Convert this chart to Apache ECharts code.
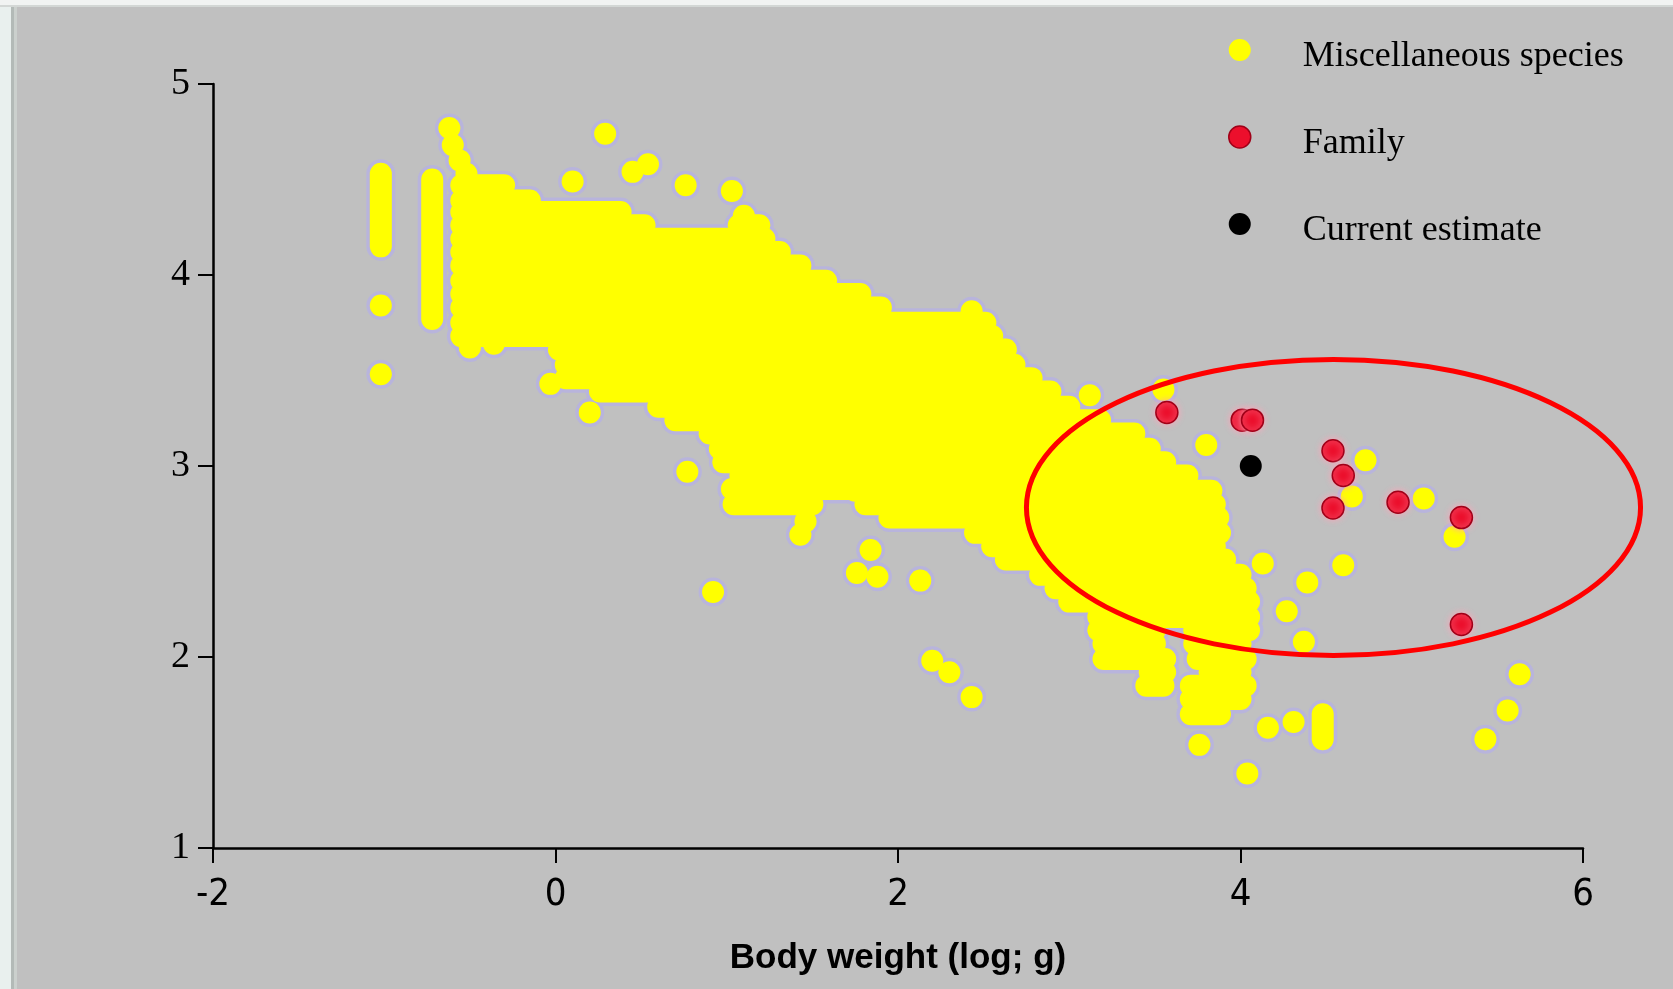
<!DOCTYPE html>
<html>
<head>
<meta charset="utf-8">
<script src="https://cdn.jsdelivr.net/npm/echarts@6/dist/echarts.min.js"></script>
<style>
html,body{margin:0;padding:0;background:#c0c0c0;}
#chart{width:1673px;height:989px;}
</style>
</head>
<body>
<div id="chart"></div>
<script>
// ---- axis ticks ----
const xTickValues = [-2, 0, 2, 4, 6];
const yTickValues = [1, 2, 3, 4, 5];

// ---- Miscellaneous species: dense cloud, read as horizontal runs of overlapping dots [y, xStart, xEnd] ----
const cloudRows = [
  [4.47, -0.55, -0.30],
  [4.39, -0.55, -0.15],
  [4.33, -0.55, 0.38],
  [4.26, -0.55, 0.52],
  [4.26, 1.07, 1.19],
  [4.19, -0.55, 1.22],
  [4.12, -0.55, 1.31],
  [4.05, -0.55, 1.43],
  [3.97, -0.55, 1.58],
  [3.90, -0.55, 1.78],
  [3.83, -0.55, 1.90],
  [3.75, -0.55, 2.51],
  [3.68, -0.55, 2.55],
  [3.61, 0.02, 2.63],
  [3.53, 0.06, 2.68],
  [3.46, 0.06, 2.78],
  [3.39, 0.26, 2.89],
  [3.31, 0.60, 3.00],
  [3.24, 0.70, 3.18],
  [3.17, 0.90, 3.38],
  [3.09, 0.96, 3.47],
  [3.02, 0.98, 3.56],
  [2.95, 1.08, 3.69],
  [2.88, 1.03, 1.75],
  [2.87, 1.75, 3.83],
  [2.80, 1.04, 1.50],
  [2.80, 1.81, 3.85],
  [2.73, 1.95, 3.87],
  [2.65, 2.45, 3.88],
  [2.58, 2.55, 3.85],
  [2.51, 2.63, 3.91],
  [2.43, 2.83, 4.00],
  [2.36, 2.92, 4.03],
  [2.29, 3.00, 4.05],
  [2.21, 3.17, 4.05],
  [2.14, 3.17, 3.50],
  [2.14, 3.73, 4.05],
  [2.07, 3.20, 3.50],
  [2.07, 3.73, 4.00],
  [1.99, 3.20, 3.56],
  [1.99, 3.75, 4.03],
  [1.92, 3.47, 3.56],
  [1.92, 3.82, 4.00],
  [1.85, 3.45, 3.55],
  [1.85, 3.71, 4.03],
  [1.78, 3.71, 4.00],
  [1.70, 3.71, 3.88]
];
// vertical runs of overlapping dots [x, yStart, yEnd]
const cloudColumns = [
  [-1.02, 4.15, 4.53],
  [-0.72, 3.77, 4.50],
  [4.48, 1.57, 1.70]
];
// isolated Miscellaneous species points [x, y]
const miscPoints = [
  [-1.02, 3.84], [-1.02, 3.48],
  [-0.62, 4.77], [-0.60, 4.68], [-0.56, 4.60], [-0.52, 4.53],
  [-0.50, 3.62], [-0.36, 3.64], [-0.03, 3.43], [0.20, 3.28],
  [0.29, 4.74], [0.45, 4.54], [0.54, 4.58], [0.10, 4.49], [0.76, 4.47], [1.03, 4.44], [1.10, 4.31],
  [2.43, 3.81],
  [0.77, 2.97], [0.92, 2.34],
  [1.43, 2.64], [1.46, 2.71], [1.76, 2.44], [1.84, 2.56], [1.88, 2.42], [2.13, 2.40],
  [2.20, 1.98], [2.30, 1.92], [2.43, 1.79],
  [3.12, 3.37], [3.55, 3.40], [3.80, 3.11],
  [4.13, 2.49], [4.39, 2.39], [4.60, 2.48], [4.27, 2.24], [4.37, 2.08],
  [4.73, 3.03], [4.65, 2.84], [5.07, 2.83], [5.25, 2.63],
  [5.63, 1.91], [5.56, 1.72], [5.43, 1.57],
  [4.31, 1.66], [4.16, 1.63], [3.76, 1.54], [4.04, 1.39]
];
// ---- Family ----
const familyPoints = [
  [3.57, 3.28], [4.01, 3.24], [4.07, 3.24], [4.54, 3.08], [4.60, 2.95],
  [4.54, 2.78], [4.92, 2.81], [5.29, 2.73], [5.29, 2.17]
];
// ---- Current estimate ----
const currentEstimate = [[4.06, 3.00]];
// ---- highlight ellipse [cx, cy, rx, ry] in data units ----
const highlightEllipse = [[4.543, 2.783, 1.793, 0.775]];

const seriesNames = ['Miscellaneous species', 'Family', 'Current estimate'];

const segments = cloudRows.map(r => [r[1], r[0], r[2], r[0]])
  .concat(cloudColumns.map(c => [c[0], c[1], c[0], c[2]]));

function segRender(width, color) {
  return function (params, api) {
    const p1 = api.coord([api.value(0), api.value(1)]);
    const p2 = api.coord([api.value(2), api.value(3)]);
    return {
      type: 'line',
      shape: { x1: p1[0], y1: p1[1], x2: p2[0], y2: p2[1] },
      style: { stroke: color, lineWidth: width, lineCap: 'round', fill: null }
    };
  };
}

const YELLOW = '#ffff00';
const HALO = '#b8b4dc';
const RED = '#ec0f2c';
const DOT = 22;

const condensed = "'DejaVu Sans Condensed', 'Liberation Sans Narrow', sans-serif";
const sans = "'Liberation Sans', Arial, sans-serif";
const serif = "'Liberation Serif', 'Times New Roman', serif";

const chart = echarts.init(document.getElementById('chart'), null, { renderer: 'canvas' });
chart.setOption({
  backgroundColor: '#c0c0c0',
  animation: false,
  grid: { left: 213, right: 90, top: 84, bottom: 141, containLabel: false },
  xAxis: {
    type: 'value', min: xTickValues[0], max: xTickValues[xTickValues.length - 1], interval: 2,
    axisLine: { show: true, onZero: false, lineStyle: { color: '#000', width: 2.5 } },
    axisTick: { show: true, length: 15, lineStyle: { color: '#000', width: 2 } },
    splitLine: { show: false },
    axisLabel: { color: '#000', fontFamily: condensed, fontSize: 38, margin: 28 },
    name: 'Body weight (log; g)', nameLocation: 'middle', nameGap: 93,
    nameTextStyle: { color: '#000', fontFamily: sans, fontWeight: 'bold', fontSize: 35 }
  },
  yAxis: {
    type: 'value', min: yTickValues[0], max: yTickValues[yTickValues.length - 1], interval: 1,
    axisLine: { show: true, onZero: false, lineStyle: { color: '#000', width: 2.5 } },
    axisTick: { show: true, length: 15, lineStyle: { color: '#000', width: 2 } },
    splitLine: { show: false },
    axisLabel: { color: '#000', fontFamily: serif, fontSize: 38, margin: 23 }
  },
  legend: {
    orient: 'vertical', left: 1228, top: 32, padding: 0, itemGap: 44,
    itemWidth: 22, itemHeight: 22, icon: 'circle', selectedMode: false,
    formatter: '{s| }{t|{name}}',
    textStyle: {
      color: '#000', fontFamily: serif, fontSize: 36,
      rich: {
        s: { width: 47, height: 50, fontSize: 36 },
        t: { color: '#000', fontFamily: serif, fontSize: 36, lineHeight: 36, verticalAlign: 'bottom' }
      }
    },
    data: [
      { name: seriesNames[0], itemStyle: { color: YELLOW, borderWidth: 0 } },
      { name: seriesNames[1], itemStyle: { color: RED, borderColor: '#a00018', borderWidth: 1.5 } },
      { name: seriesNames[2], itemStyle: { color: '#000', borderWidth: 0 } }
    ]
  },
  graphic: [
    { type: 'rect', shape: { x: 0, y: 0, width: 11, height: 989 }, style: { fill: '#e9f0ee' }, silent: true },
    { type: 'rect', shape: { x: 11, y: 0, width: 3, height: 989 }, style: { fill: '#b3bab7' }, silent: true },
    { type: 'rect', shape: { x: 14, y: 0, width: 3, height: 989 }, style: { fill: '#cbd0cd' }, silent: true },
    { type: 'rect', shape: { x: 0, y: 0, width: 1673, height: 5 }, style: { fill: '#f1f3f2' }, silent: true },
    { type: 'rect', shape: { x: 0, y: 5, width: 1673, height: 2 }, style: { fill: '#d3d7d5' }, silent: true }
  ],
  series: [
    {
      type: 'custom', name: 'halo-runs', silent: true, z: 1, clip: false,
      data: segments, encode: { x: [0, 2], y: [1, 3] },
      renderItem: segRender(DOT + 7, HALO)
    },
    {
      type: 'scatter', name: 'halo-points', silent: true, z: 1,
      data: miscPoints, symbolSize: DOT + 7,
      itemStyle: { color: HALO, opacity: 1 }
    },
    {
      type: 'custom', name: seriesNames[0], silent: true, z: 2, clip: false,
      data: segments, encode: { x: [0, 2], y: [1, 3] },
      itemStyle: { color: YELLOW },
      renderItem: segRender(DOT, YELLOW)
    },
    {
      type: 'scatter', name: seriesNames[0], z: 2,
      data: miscPoints, symbolSize: DOT,
      itemStyle: { color: YELLOW, opacity: 1 }
    },
    {
      type: 'scatter', name: seriesNames[1], z: 3,
      data: familyPoints, symbolSize: DOT,
      itemStyle: { color: RED, opacity: 1, borderColor: '#a00018', borderWidth: 1.5,
        shadowBlur: 7, shadowColor: 'rgba(255,165,185,1)' }
    },
    {
      type: 'scatter', name: seriesNames[2], z: 4,
      data: currentEstimate, symbolSize: DOT,
      itemStyle: { color: '#000', opacity: 1 }
    },
    {
      type: 'custom', name: 'highlight', silent: true, z: 5, clip: false,
      data: highlightEllipse, encode: { x: 0, y: 1 },
      renderItem: function (params, api) {
        const c = api.coord([api.value(0), api.value(1)]);
        const s = api.size([api.value(2), api.value(3)]);
        return {
          type: 'ellipse',
          shape: { cx: c[0], cy: c[1], rx: s[0], ry: s[1] },
          style: { fill: null, stroke: '#ff0000', lineWidth: 5 }
        };
      }
    }
  ]
});
</script>
</body>
</html>
